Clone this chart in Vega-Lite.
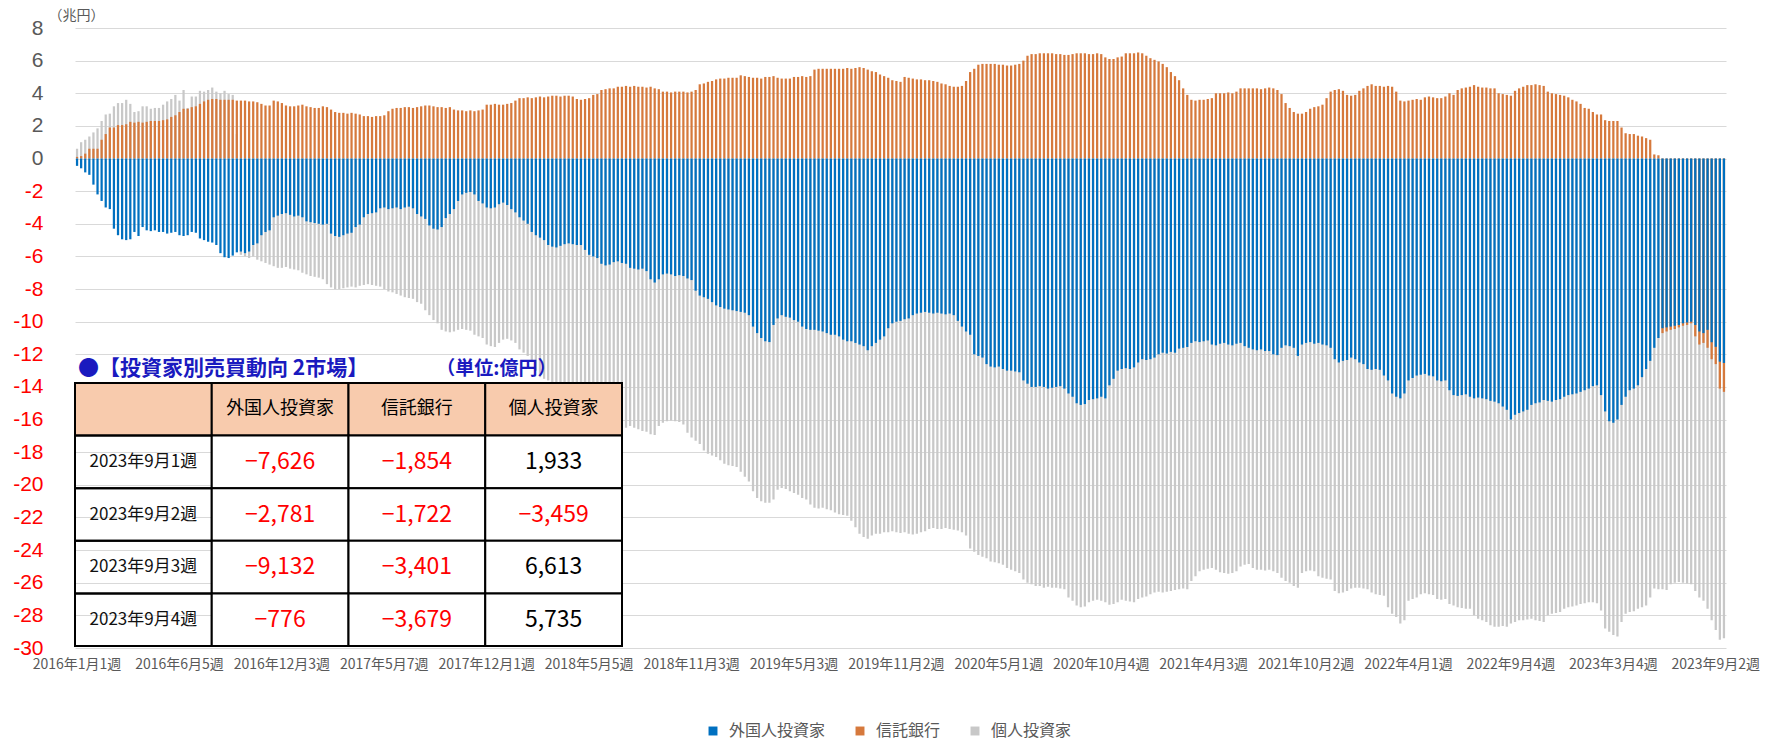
{
"$schema": "https://vega.github.io/schema/vega-lite/v6.json",
"width": 1651,
"height": 620,
"autosize": {"type": "none"},
"padding": {"left": 75, "top": 28, "right": 45, "bottom": 96},
"background": "white",
"config": {"view": {"stroke": null}, "font": "Noto Sans CJK JP", "text": {"font": "Noto Sans CJK JP"}},
"layer": [
{
"data": {"values": [
{"w":"2016年1月1週","foreign":-0.45,"trust":0.1,"indiv":0.6},
{"w":"2016年1月2週","foreign":-0.6,"trust":0.15,"indiv":1.0},
{"w":"2016年1月3週","foreign":-0.85,"trust":0.3,"indiv":1.15},
{"w":"2016年1月4週","foreign":-1.0,"trust":0.6,"indiv":1.35},
{"w":"2016年2月1週","foreign":-1.6,"trust":0.6,"indiv":1.6},
{"w":"2016年2月2週","foreign":-2.2,"trust":0.6,"indiv":1.85},
{"w":"2016年2月3週","foreign":-2.6,"trust":1.15,"indiv":2.3},
{"w":"2016年2月4週","foreign":-3.0,"trust":1.5,"indiv":2.7},
{"w":"2016年2月5週","foreign":-3.1,"trust":1.9,"indiv":2.75},
{"w":"2016年3月1週","foreign":-4.3,"trust":1.9,"indiv":3.2},
{"w":"2016年3月2週","foreign":-4.7,"trust":2.05,"indiv":3.4},
{"w":"2016年3月3週","foreign":-4.95,"trust":2.05,"indiv":3.4},
{"w":"2016年3月4週","foreign":-5.0,"trust":2.1,"indiv":3.6},
{"w":"2016年4月1週","foreign":-4.95,"trust":2.25,"indiv":3.35},
{"w":"2016年4月2週","foreign":-4.5,"trust":2.2,"indiv":2.85},
{"w":"2016年4月3週","foreign":-4.75,"trust":2.25,"indiv":2.9},
{"w":"2016年4月4週","foreign":-4.2,"trust":2.2,"indiv":3.2},
{"w":"2016年5月1週","foreign":-4.4,"trust":2.25,"indiv":3.2},
{"w":"2016年5月2週","foreign":-4.45,"trust":2.3,"indiv":3.05},
{"w":"2016年5月3週","foreign":-4.4,"trust":2.3,"indiv":3.1},
{"w":"2016年5月4週","foreign":-4.5,"trust":2.3,"indiv":3.1},
{"w":"2016年6月1週","foreign":-4.5,"trust":2.35,"indiv":3.3},
{"w":"2016年6月2週","foreign":-4.6,"trust":2.4,"indiv":3.5},
{"w":"2016年6月3週","foreign":-4.55,"trust":2.55,"indiv":3.65},
{"w":"2016年6月4週","foreign":-4.5,"trust":2.65,"indiv":3.9},
{"w":"2016年6月5週","foreign":-4.7,"trust":2.85,"indiv":3.55},
{"w":"2016年7月1週","foreign":-4.75,"trust":3.05,"indiv":4.2},
{"w":"2016年7月2週","foreign":-4.7,"trust":3.05,"indiv":3.1},
{"w":"2016年7月3週","foreign":-4.5,"trust":3.15,"indiv":3.8},
{"w":"2016年7月4週","foreign":-4.55,"trust":3.2,"indiv":3.8},
{"w":"2016年8月1週","foreign":-4.9,"trust":3.35,"indiv":4.15},
{"w":"2016年8月2週","foreign":-5.0,"trust":3.5,"indiv":4.1},
{"w":"2016年8月3週","foreign":-5.1,"trust":3.6,"indiv":4.2},
{"w":"2016年8月4週","foreign":-5.15,"trust":3.65,"indiv":4.35},
{"w":"2016年8月5週","foreign":-5.3,"trust":3.65,"indiv":4.1},
{"w":"2016年9月1週","foreign":-5.8,"trust":3.6,"indiv":4.0},
{"w":"2016年9月2週","foreign":-6.05,"trust":3.6,"indiv":4.15},
{"w":"2016年9月3週","foreign":-6.1,"trust":3.6,"indiv":3.95},
{"w":"2016年9月4週","foreign":-5.95,"trust":3.6,"indiv":3.9},
{"w":"2016年10月1週","foreign":-5.75,"trust":3.55,"indiv":1.5},
{"w":"2016年10月2週","foreign":-5.7,"trust":3.55,"indiv":-5.9},
{"w":"2016年10月3週","foreign":-5.8,"trust":3.55,"indiv":-6.0},
{"w":"2016年10月4週","foreign":-5.7,"trust":3.5,"indiv":-6.1},
{"w":"2016年10月5週","foreign":-5.3,"trust":3.5,"indiv":-6.0},
{"w":"2016年11月1週","foreign":-5.2,"trust":3.45,"indiv":-6.2},
{"w":"2016年11月2週","foreign":-4.7,"trust":3.35,"indiv":-6.3},
{"w":"2016年11月3週","foreign":-4.5,"trust":3.25,"indiv":-6.4},
{"w":"2016年11月4週","foreign":-4.4,"trust":3.25,"indiv":-6.5},
{"w":"2016年12月1週","foreign":-3.6,"trust":3.55,"indiv":-6.6},
{"w":"2016年12月2週","foreign":-3.5,"trust":3.5,"indiv":-6.7},
{"w":"2016年12月3週","foreign":-3.4,"trust":3.4,"indiv":-6.7},
{"w":"2016年12月4週","foreign":-3.35,"trust":3.25,"indiv":-6.65},
{"w":"2017年1月1週","foreign":-3.45,"trust":3.2,"indiv":-6.75},
{"w":"2017年1月2週","foreign":-3.55,"trust":3.2,"indiv":-6.8},
{"w":"2017年1月3週","foreign":-3.5,"trust":3.25,"indiv":-6.85},
{"w":"2017年1月4週","foreign":-3.6,"trust":3.3,"indiv":-7.0},
{"w":"2017年1月5週","foreign":-3.85,"trust":3.2,"indiv":-7.1},
{"w":"2017年2月1週","foreign":-3.9,"trust":3.15,"indiv":-7.2},
{"w":"2017年2月2週","foreign":-3.95,"trust":3.1,"indiv":-7.25},
{"w":"2017年2月3週","foreign":-4.0,"trust":3.1,"indiv":-7.3},
{"w":"2017年2月4週","foreign":-4.05,"trust":3.2,"indiv":-7.4},
{"w":"2017年3月1週","foreign":-4.0,"trust":3.15,"indiv":-7.7},
{"w":"2017年3月2週","foreign":-4.6,"trust":3.0,"indiv":-7.9},
{"w":"2017年3月3週","foreign":-4.75,"trust":2.85,"indiv":-8.0},
{"w":"2017年3月4週","foreign":-4.8,"trust":2.8,"indiv":-8.0},
{"w":"2017年4月1週","foreign":-4.7,"trust":2.8,"indiv":-7.95},
{"w":"2017年4月2週","foreign":-4.6,"trust":2.75,"indiv":-7.9},
{"w":"2017年4月3週","foreign":-4.55,"trust":2.8,"indiv":-7.85},
{"w":"2017年4月4週","foreign":-4.2,"trust":2.75,"indiv":-7.9},
{"w":"2017年5月1週","foreign":-4.05,"trust":2.7,"indiv":-7.8},
{"w":"2017年5月2週","foreign":-3.6,"trust":2.6,"indiv":-7.75},
{"w":"2017年5月3週","foreign":-3.4,"trust":2.6,"indiv":-7.7},
{"w":"2017年5月4週","foreign":-3.35,"trust":2.55,"indiv":-7.75},
{"w":"2017年5月5週","foreign":-3.3,"trust":2.6,"indiv":-7.8},
{"w":"2017年5月6週","foreign":-3.05,"trust":2.6,"indiv":-7.85},
{"w":"2017年5月7週","foreign":-3.0,"trust":2.65,"indiv":-8.0},
{"w":"2017年6月3週","foreign":-3.1,"trust":2.9,"indiv":-8.15},
{"w":"2017年6月4週","foreign":-3.05,"trust":3.05,"indiv":-8.2},
{"w":"2017年7月1週","foreign":-3.0,"trust":3.1,"indiv":-8.3},
{"w":"2017年7月2週","foreign":-3.1,"trust":3.1,"indiv":-8.4},
{"w":"2017年7月3週","foreign":-3.0,"trust":3.15,"indiv":-8.5},
{"w":"2017年7月4週","foreign":-2.95,"trust":3.15,"indiv":-8.55},
{"w":"2017年7月5週","foreign":-3.05,"trust":3.1,"indiv":-8.6},
{"w":"2017年8月1週","foreign":-3.4,"trust":3.15,"indiv":-8.8},
{"w":"2017年8月2週","foreign":-3.55,"trust":3.2,"indiv":-8.9},
{"w":"2017年8月3週","foreign":-3.7,"trust":3.25,"indiv":-9.3},
{"w":"2017年8月4週","foreign":-4.1,"trust":3.25,"indiv":-9.6},
{"w":"2017年9月1週","foreign":-4.3,"trust":3.2,"indiv":-9.9},
{"w":"2017年9月2週","foreign":-4.35,"trust":3.15,"indiv":-10.1},
{"w":"2017年9月3週","foreign":-4.2,"trust":3.15,"indiv":-10.5},
{"w":"2017年9月4週","foreign":-3.65,"trust":3.1,"indiv":-10.6},
{"w":"2017年10月1週","foreign":-3.4,"trust":3.15,"indiv":-10.65},
{"w":"2017年10月2週","foreign":-3.1,"trust":3.0,"indiv":-10.6},
{"w":"2017年10月3週","foreign":-2.6,"trust":2.95,"indiv":-10.5},
{"w":"2017年10月4週","foreign":-2.2,"trust":2.95,"indiv":-10.45},
{"w":"2017年10月5週","foreign":-2.1,"trust":2.9,"indiv":-10.5},
{"w":"2017年11月1週","foreign":-2.05,"trust":2.95,"indiv":-10.55},
{"w":"2017年11月2週","foreign":-2.2,"trust":2.9,"indiv":-10.8},
{"w":"2017年11月3週","foreign":-2.6,"trust":2.95,"indiv":-10.9},
{"w":"2017年11月4週","foreign":-2.75,"trust":3.0,"indiv":-11.0},
{"w":"2017年12月1週","foreign":-3.0,"trust":3.3,"indiv":-11.4},
{"w":"2017年12月2週","foreign":-3.05,"trust":3.3,"indiv":-11.5},
{"w":"2017年12月3週","foreign":-3.0,"trust":3.35,"indiv":-11.55},
{"w":"2017年12月4週","foreign":-2.8,"trust":3.3,"indiv":-11.3},
{"w":"2018年1月1週","foreign":-2.7,"trust":3.3,"indiv":-11.1},
{"w":"2018年1月2週","foreign":-2.85,"trust":3.35,"indiv":-11.05},
{"w":"2018年1月3週","foreign":-3.1,"trust":3.4,"indiv":-11.15},
{"w":"2018年1月4週","foreign":-3.3,"trust":3.55,"indiv":-11.3},
{"w":"2018年1月5週","foreign":-3.6,"trust":3.7,"indiv":-11.7},
{"w":"2018年2月1週","foreign":-3.8,"trust":3.7,"indiv":-11.9},
{"w":"2018年2月2週","foreign":-4.0,"trust":3.75,"indiv":-12.1},
{"w":"2018年2月3週","foreign":-4.5,"trust":3.7,"indiv":-12.4},
{"w":"2018年2月4週","foreign":-4.7,"trust":3.75,"indiv":-13.0},
{"w":"2018年3月1週","foreign":-4.85,"trust":3.8,"indiv":-13.4},
{"w":"2018年3月2週","foreign":-5.0,"trust":3.75,"indiv":-13.5},
{"w":"2018年3月3週","foreign":-5.3,"trust":3.8,"indiv":-13.6},
{"w":"2018年3月4週","foreign":-5.4,"trust":3.85,"indiv":-14.2},
{"w":"2018年4月1週","foreign":-5.45,"trust":3.85,"indiv":-14.5},
{"w":"2018年4月2週","foreign":-5.35,"trust":3.8,"indiv":-14.7},
{"w":"2018年4月3週","foreign":-5.25,"trust":3.85,"indiv":-14.8},
{"w":"2018年4月4週","foreign":-5.2,"trust":3.85,"indiv":-15.2},
{"w":"2018年5月1週","foreign":-5.25,"trust":3.8,"indiv":-15.4},
{"w":"2018年5月2週","foreign":-5.3,"trust":3.65,"indiv":-15.4},
{"w":"2018年5月3週","foreign":-5.3,"trust":3.6,"indiv":-15.35},
{"w":"2018年5月4週","foreign":-5.6,"trust":3.65,"indiv":-15.45},
{"w":"2018年5月5週","foreign":-5.9,"trust":3.7,"indiv":-15.5},
{"w":"2018年6月1週","foreign":-6.0,"trust":3.9,"indiv":-15.6},
{"w":"2018年6月2週","foreign":-6.1,"trust":3.95,"indiv":-15.8},
{"w":"2018年6月3週","foreign":-6.45,"trust":4.2,"indiv":-15.9},
{"w":"2018年6月4週","foreign":-6.55,"trust":4.25,"indiv":-16.0},
{"w":"2018年7月1週","foreign":-6.5,"trust":4.3,"indiv":-16.4},
{"w":"2018年7月2週","foreign":-6.35,"trust":4.3,"indiv":-16.6},
{"w":"2018年7月3週","foreign":-6.3,"trust":4.4,"indiv":-16.7},
{"w":"2018年7月4週","foreign":-6.4,"trust":4.4,"indiv":-16.6},
{"w":"2018年7月5週","foreign":-6.45,"trust":4.45,"indiv":-16.5},
{"w":"2018年8月1週","foreign":-6.7,"trust":4.4,"indiv":-16.4},
{"w":"2018年8月2週","foreign":-6.75,"trust":4.45,"indiv":-16.5},
{"w":"2018年8月3週","foreign":-6.8,"trust":4.4,"indiv":-16.6},
{"w":"2018年8月4週","foreign":-6.75,"trust":4.4,"indiv":-16.7},
{"w":"2018年9月1週","foreign":-6.9,"trust":4.35,"indiv":-16.75},
{"w":"2018年9月2週","foreign":-7.4,"trust":4.4,"indiv":-16.9},
{"w":"2018年9月3週","foreign":-7.6,"trust":4.3,"indiv":-16.95},
{"w":"2018年9月4週","foreign":-7.4,"trust":4.25,"indiv":-16.4},
{"w":"2018年10月1週","foreign":-7.1,"trust":4.1,"indiv":-16.2},
{"w":"2018年10月2週","foreign":-7.05,"trust":4.1,"indiv":-16.1},
{"w":"2018年10月3週","foreign":-7.1,"trust":4.05,"indiv":-16.05},
{"w":"2018年10月4週","foreign":-7.2,"trust":4.1,"indiv":-16.1},
{"w":"2018年10月5週","foreign":-7.15,"trust":4.1,"indiv":-16.15},
{"w":"2018年11月1週","foreign":-7.2,"trust":4.1,"indiv":-16.3},
{"w":"2018年11月2週","foreign":-7.35,"trust":4.05,"indiv":-16.8},
{"w":"2018年11月3週","foreign":-7.45,"trust":4.1,"indiv":-17.1},
{"w":"2018年11月4週","foreign":-8.1,"trust":4.2,"indiv":-17.3},
{"w":"2018年12月1週","foreign":-8.4,"trust":4.55,"indiv":-17.5},
{"w":"2018年12月2週","foreign":-8.5,"trust":4.6,"indiv":-17.9},
{"w":"2018年12月3週","foreign":-8.6,"trust":4.7,"indiv":-18.1},
{"w":"2018年12月4週","foreign":-8.8,"trust":4.75,"indiv":-18.2},
{"w":"2018年12月5週","foreign":-9.0,"trust":4.85,"indiv":-18.3},
{"w":"2019年1月1週","foreign":-9.1,"trust":4.9,"indiv":-18.5},
{"w":"2019年1月2週","foreign":-9.2,"trust":4.9,"indiv":-18.7},
{"w":"2019年1月3週","foreign":-9.25,"trust":4.95,"indiv":-18.8},
{"w":"2019年1月4週","foreign":-9.3,"trust":4.95,"indiv":-18.85},
{"w":"2019年2月1週","foreign":-9.35,"trust":4.95,"indiv":-18.9},
{"w":"2019年2月2週","foreign":-9.4,"trust":5.1,"indiv":-19.2},
{"w":"2019年2月3週","foreign":-9.45,"trust":5.05,"indiv":-19.5},
{"w":"2019年2月4週","foreign":-9.6,"trust":5.0,"indiv":-19.8},
{"w":"2019年3月1週","foreign":-10.3,"trust":4.95,"indiv":-20.4},
{"w":"2019年3月2週","foreign":-10.7,"trust":4.95,"indiv":-20.8},
{"w":"2019年3月3週","foreign":-11.0,"trust":4.9,"indiv":-21.0},
{"w":"2019年3月4週","foreign":-11.2,"trust":5.0,"indiv":-21.1},
{"w":"2019年4月1週","foreign":-11.25,"trust":5.0,"indiv":-21.1},
{"w":"2019年4月2週","foreign":-10.2,"trust":5.05,"indiv":-20.9},
{"w":"2019年4月3週","foreign":-9.8,"trust":4.95,"indiv":-20.3},
{"w":"2019年4月4週","foreign":-9.6,"trust":4.9,"indiv":-20.2},
{"w":"2019年5月1週","foreign":-9.7,"trust":4.9,"indiv":-20.25},
{"w":"2019年5月2週","foreign":-9.75,"trust":4.9,"indiv":-20.4},
{"w":"2019年5月3週","foreign":-9.9,"trust":5.0,"indiv":-20.5},
{"w":"2019年5月4週","foreign":-10.0,"trust":5.0,"indiv":-20.6},
{"w":"2019年6月1週","foreign":-10.3,"trust":5.05,"indiv":-20.8},
{"w":"2019年6月2週","foreign":-10.45,"trust":5.0,"indiv":-20.9},
{"w":"2019年6月3週","foreign":-10.5,"trust":5.05,"indiv":-21.2},
{"w":"2019年6月4週","foreign":-10.5,"trust":5.45,"indiv":-21.4},
{"w":"2019年7月1週","foreign":-10.55,"trust":5.5,"indiv":-21.45},
{"w":"2019年7月2週","foreign":-10.6,"trust":5.5,"indiv":-21.4},
{"w":"2019年7月3週","foreign":-10.7,"trust":5.5,"indiv":-21.5},
{"w":"2019年7月4週","foreign":-10.8,"trust":5.5,"indiv":-21.55},
{"w":"2019年7月5週","foreign":-10.8,"trust":5.5,"indiv":-21.7},
{"w":"2019年8月1週","foreign":-10.9,"trust":5.5,"indiv":-21.8},
{"w":"2019年8月2週","foreign":-11.1,"trust":5.5,"indiv":-21.85},
{"w":"2019年8月3週","foreign":-11.2,"trust":5.55,"indiv":-21.9},
{"w":"2019年8月4週","foreign":-11.2,"trust":5.5,"indiv":-22.2},
{"w":"2019年9月1週","foreign":-11.3,"trust":5.55,"indiv":-22.6},
{"w":"2019年9月2週","foreign":-11.4,"trust":5.6,"indiv":-23.0},
{"w":"2019年9月3週","foreign":-11.5,"trust":5.55,"indiv":-23.2},
{"w":"2019年9月4週","foreign":-11.75,"trust":5.45,"indiv":-23.3},
{"w":"2019年9月5週","foreign":-11.5,"trust":5.35,"indiv":-23.1},
{"w":"2019年10月1週","foreign":-11.3,"trust":5.3,"indiv":-23.0},
{"w":"2019年10月2週","foreign":-11.1,"trust":5.15,"indiv":-23.0},
{"w":"2019年10月3週","foreign":-10.9,"trust":5.05,"indiv":-22.9},
{"w":"2019年10月4週","foreign":-10.4,"trust":4.95,"indiv":-22.9},
{"w":"2019年11月1週","foreign":-10.1,"trust":4.8,"indiv":-22.85},
{"w":"2019年11月2週","foreign":-10.0,"trust":4.75,"indiv":-22.9},
{"w":"2019年11月3週","foreign":-9.95,"trust":4.7,"indiv":-22.95},
{"w":"2019年11月4週","foreign":-9.85,"trust":5.0,"indiv":-22.9},
{"w":"2019年12月1週","foreign":-9.8,"trust":4.95,"indiv":-23.0},
{"w":"2019年12月2週","foreign":-9.6,"trust":4.9,"indiv":-23.05},
{"w":"2019年12月3週","foreign":-9.5,"trust":4.85,"indiv":-23.0},
{"w":"2019年12月4週","foreign":-9.45,"trust":4.85,"indiv":-22.9},
{"w":"2019年12月5週","foreign":-9.4,"trust":4.8,"indiv":-22.85},
{"w":"2020年1月1週","foreign":-9.45,"trust":4.8,"indiv":-22.7},
{"w":"2020年1月2週","foreign":-9.5,"trust":4.75,"indiv":-22.65},
{"w":"2020年1月3週","foreign":-9.45,"trust":4.7,"indiv":-22.7},
{"w":"2020年1月4週","foreign":-9.5,"trust":4.6,"indiv":-22.7},
{"w":"2020年2月1週","foreign":-9.55,"trust":4.55,"indiv":-22.65},
{"w":"2020年2月2週","foreign":-9.5,"trust":4.45,"indiv":-22.7},
{"w":"2020年2月3週","foreign":-9.6,"trust":4.4,"indiv":-22.75},
{"w":"2020年2月4週","foreign":-9.95,"trust":4.4,"indiv":-22.8},
{"w":"2020年3月1週","foreign":-10.3,"trust":4.45,"indiv":-22.9},
{"w":"2020年3月2週","foreign":-10.6,"trust":4.75,"indiv":-23.1},
{"w":"2020年3月3週","foreign":-10.8,"trust":5.3,"indiv":-23.9},
{"w":"2020年3月4週","foreign":-12.0,"trust":5.5,"indiv":-24.1},
{"w":"2020年3月5週","foreign":-12.1,"trust":5.75,"indiv":-24.3},
{"w":"2020年4月1週","foreign":-12.2,"trust":5.8,"indiv":-24.4},
{"w":"2020年4月2週","foreign":-12.6,"trust":5.8,"indiv":-24.5},
{"w":"2020年4月3週","foreign":-12.75,"trust":5.8,"indiv":-24.7},
{"w":"2020年4月4週","foreign":-12.8,"trust":5.8,"indiv":-24.75},
{"w":"2020年5月1週","foreign":-12.75,"trust":5.75,"indiv":-24.8},
{"w":"2020年5月2週","foreign":-12.9,"trust":5.75,"indiv":-24.9},
{"w":"2020年5月3週","foreign":-13.0,"trust":5.7,"indiv":-25.1},
{"w":"2020年5月4週","foreign":-13.0,"trust":5.7,"indiv":-25.2},
{"w":"2020年6月1週","foreign":-13.05,"trust":5.75,"indiv":-25.3},
{"w":"2020年6月2週","foreign":-13.1,"trust":5.8,"indiv":-25.4},
{"w":"2020年6月3週","foreign":-13.6,"trust":6.0,"indiv":-25.8},
{"w":"2020年6月4週","foreign":-13.8,"trust":6.3,"indiv":-26.0},
{"w":"2020年6月5週","foreign":-14.0,"trust":6.4,"indiv":-26.1},
{"w":"2020年7月1週","foreign":-14.0,"trust":6.4,"indiv":-26.2},
{"w":"2020年7月2週","foreign":-13.95,"trust":6.45,"indiv":-26.2},
{"w":"2020年7月3週","foreign":-14.0,"trust":6.45,"indiv":-26.3},
{"w":"2020年7月4週","foreign":-14.1,"trust":6.45,"indiv":-26.25},
{"w":"2020年8月1週","foreign":-14.05,"trust":6.45,"indiv":-26.3},
{"w":"2020年8月2週","foreign":-14.0,"trust":6.4,"indiv":-26.3},
{"w":"2020年8月3週","foreign":-13.95,"trust":6.4,"indiv":-26.35},
{"w":"2020年8月4週","foreign":-14.1,"trust":6.35,"indiv":-26.4},
{"w":"2020年8月5週","foreign":-14.4,"trust":6.35,"indiv":-26.9},
{"w":"2020年9月1週","foreign":-14.6,"trust":6.4,"indiv":-27.1},
{"w":"2020年9月2週","foreign":-15.0,"trust":6.45,"indiv":-27.4},
{"w":"2020年9月3週","foreign":-15.1,"trust":6.45,"indiv":-27.5},
{"w":"2020年9月4週","foreign":-15.05,"trust":6.45,"indiv":-27.45},
{"w":"2020年10月1週","foreign":-14.8,"trust":6.4,"indiv":-27.2},
{"w":"2020年10月2週","foreign":-14.75,"trust":6.4,"indiv":-27.1},
{"w":"2020年10月3週","foreign":-14.7,"trust":6.45,"indiv":-27.05},
{"w":"2020年10月4週","foreign":-14.6,"trust":6.4,"indiv":-27.1},
{"w":"2020年11月1週","foreign":-14.7,"trust":6.2,"indiv":-27.2},
{"w":"2020年11月2週","foreign":-13.9,"trust":6.1,"indiv":-27.35},
{"w":"2020年11月3週","foreign":-13.5,"trust":6.1,"indiv":-27.3},
{"w":"2020年11月4週","foreign":-13.0,"trust":6.2,"indiv":-27.2},
{"w":"2020年11月5週","foreign":-12.9,"trust":6.25,"indiv":-27.05},
{"w":"2020年12月1週","foreign":-12.85,"trust":6.45,"indiv":-27.1},
{"w":"2020年12月2週","foreign":-12.9,"trust":6.45,"indiv":-27.15},
{"w":"2020年12月3週","foreign":-12.8,"trust":6.45,"indiv":-27.2},
{"w":"2020年12月4週","foreign":-12.5,"trust":6.5,"indiv":-27.0},
{"w":"2021年1月1週","foreign":-12.3,"trust":6.45,"indiv":-26.9},
{"w":"2021年1月2週","foreign":-12.35,"trust":6.3,"indiv":-26.85},
{"w":"2021年1月3週","foreign":-12.3,"trust":6.15,"indiv":-26.7},
{"w":"2021年1月4週","foreign":-12.2,"trust":6.05,"indiv":-26.6},
{"w":"2021年2月1週","foreign":-12.0,"trust":5.95,"indiv":-26.55},
{"w":"2021年2月2週","foreign":-11.9,"trust":5.8,"indiv":-26.6},
{"w":"2021年2月3週","foreign":-11.95,"trust":5.6,"indiv":-26.55},
{"w":"2021年2月4週","foreign":-11.85,"trust":5.3,"indiv":-26.5},
{"w":"2021年3月1週","foreign":-11.9,"trust":5.05,"indiv":-26.45},
{"w":"2021年3月2週","foreign":-11.65,"trust":4.8,"indiv":-26.4},
{"w":"2021年3月3週","foreign":-11.6,"trust":4.3,"indiv":-26.35},
{"w":"2021年3月4週","foreign":-11.55,"trust":3.9,"indiv":-26.4},
{"w":"2021年3月5週","foreign":-11.3,"trust":3.6,"indiv":-25.9},
{"w":"2021年4月1週","foreign":-11.2,"trust":3.55,"indiv":-25.6},
{"w":"2021年4月2週","foreign":-11.25,"trust":3.6,"indiv":-25.3},
{"w":"2021年4月3週","foreign":-11.2,"trust":3.6,"indiv":-25.2},
{"w":"2021年4月4週","foreign":-11.15,"trust":3.65,"indiv":-25.15},
{"w":"2021年5月1週","foreign":-11.4,"trust":3.7,"indiv":-25.1},
{"w":"2021年5月2週","foreign":-11.45,"trust":4.0,"indiv":-25.2},
{"w":"2021年5月3週","foreign":-11.35,"trust":4.0,"indiv":-25.35},
{"w":"2021年5月4週","foreign":-11.3,"trust":4.0,"indiv":-25.4},
{"w":"2021年5月5週","foreign":-11.4,"trust":4.05,"indiv":-25.45},
{"w":"2021年6月1週","foreign":-11.45,"trust":4.0,"indiv":-25.4},
{"w":"2021年6月2週","foreign":-11.35,"trust":4.1,"indiv":-25.3},
{"w":"2021年6月3週","foreign":-11.3,"trust":4.3,"indiv":-25.0},
{"w":"2021年6月4週","foreign":-11.5,"trust":4.3,"indiv":-24.9},
{"w":"2021年7月1週","foreign":-11.6,"trust":4.3,"indiv":-24.85},
{"w":"2021年7月2週","foreign":-11.7,"trust":4.3,"indiv":-25.1},
{"w":"2021年7月3週","foreign":-11.75,"trust":4.3,"indiv":-25.2},
{"w":"2021年7月4週","foreign":-11.7,"trust":4.25,"indiv":-25.2},
{"w":"2021年8月1週","foreign":-11.8,"trust":4.3,"indiv":-25.25},
{"w":"2021年8月2週","foreign":-11.8,"trust":4.35,"indiv":-25.2},
{"w":"2021年8月3週","foreign":-12.0,"trust":4.3,"indiv":-25.3},
{"w":"2021年8月4週","foreign":-12.05,"trust":4.2,"indiv":-25.4},
{"w":"2021年8月5週","foreign":-11.6,"trust":3.95,"indiv":-25.7},
{"w":"2021年9月1週","foreign":-11.45,"trust":3.4,"indiv":-25.9},
{"w":"2021年9月2週","foreign":-11.5,"trust":3.1,"indiv":-26.0},
{"w":"2021年9月3週","foreign":-11.6,"trust":2.85,"indiv":-26.2},
{"w":"2021年9月4週","foreign":-12.1,"trust":2.75,"indiv":-26.3},
{"w":"2021年10月1週","foreign":-11.4,"trust":2.75,"indiv":-25.4},
{"w":"2021年10月2週","foreign":-11.3,"trust":2.85,"indiv":-25.3},
{"w":"2021年10月3週","foreign":-11.25,"trust":3.05,"indiv":-25.25},
{"w":"2021年10月4週","foreign":-11.35,"trust":3.15,"indiv":-25.3},
{"w":"2021年11月1週","foreign":-11.3,"trust":3.2,"indiv":-25.6},
{"w":"2021年11月2週","foreign":-11.4,"trust":3.3,"indiv":-25.7},
{"w":"2021年11月3週","foreign":-11.45,"trust":3.7,"indiv":-25.75},
{"w":"2021年11月4週","foreign":-11.6,"trust":4.1,"indiv":-25.8},
{"w":"2021年11月5週","foreign":-12.3,"trust":4.2,"indiv":-26.5},
{"w":"2021年12月1週","foreign":-12.5,"trust":4.25,"indiv":-26.65},
{"w":"2021年12月2週","foreign":-12.4,"trust":4.15,"indiv":-26.6},
{"w":"2021年12月3週","foreign":-12.35,"trust":3.9,"indiv":-26.5},
{"w":"2021年12月4週","foreign":-12.2,"trust":3.85,"indiv":-26.35},
{"w":"2022年1月1週","foreign":-12.3,"trust":3.9,"indiv":-26.3},
{"w":"2022年1月2週","foreign":-12.5,"trust":4.15,"indiv":-26.3},
{"w":"2022年1月3週","foreign":-12.6,"trust":4.3,"indiv":-26.35},
{"w":"2022年1月4週","foreign":-12.9,"trust":4.45,"indiv":-26.4},
{"w":"2022年1月5週","foreign":-12.95,"trust":4.55,"indiv":-26.6},
{"w":"2022年2月1週","foreign":-12.9,"trust":4.45,"indiv":-26.7},
{"w":"2022年2月2週","foreign":-12.95,"trust":4.45,"indiv":-26.75},
{"w":"2022年2月3週","foreign":-13.3,"trust":4.4,"indiv":-26.8},
{"w":"2022年2月4週","foreign":-13.6,"trust":4.45,"indiv":-27.5},
{"w":"2022年3月1週","foreign":-14.4,"trust":4.4,"indiv":-27.9},
{"w":"2022年3月2週","foreign":-14.6,"trust":4.1,"indiv":-28.1},
{"w":"2022年3月3週","foreign":-14.7,"trust":3.55,"indiv":-28.5},
{"w":"2022年3月4週","foreign":-14.4,"trust":3.5,"indiv":-28.3},
{"w":"2022年4月1週","foreign":-13.6,"trust":3.55,"indiv":-27.1},
{"w":"2022年4月2週","foreign":-13.45,"trust":3.6,"indiv":-27.0},
{"w":"2022年4月3週","foreign":-13.3,"trust":3.65,"indiv":-26.9},
{"w":"2022年4月4週","foreign":-13.25,"trust":3.6,"indiv":-26.7},
{"w":"2022年5月1週","foreign":-13.2,"trust":3.75,"indiv":-26.65},
{"w":"2022年5月2週","foreign":-13.3,"trust":3.8,"indiv":-26.7},
{"w":"2022年5月3週","foreign":-13.35,"trust":3.75,"indiv":-26.75},
{"w":"2022年5月4週","foreign":-13.6,"trust":3.7,"indiv":-27.0},
{"w":"2022年5月5週","foreign":-13.65,"trust":3.7,"indiv":-27.05},
{"w":"2022年6月1週","foreign":-13.6,"trust":3.8,"indiv":-27.0},
{"w":"2022年6月2週","foreign":-14.2,"trust":4.0,"indiv":-27.3},
{"w":"2022年6月3週","foreign":-14.5,"trust":3.9,"indiv":-27.4},
{"w":"2022年6月4週","foreign":-14.55,"trust":4.2,"indiv":-27.5},
{"w":"2022年7月1週","foreign":-14.5,"trust":4.3,"indiv":-27.55},
{"w":"2022年7月2週","foreign":-14.45,"trust":4.35,"indiv":-27.6},
{"w":"2022年7月3週","foreign":-14.6,"trust":4.4,"indiv":-27.6},
{"w":"2022年7月4週","foreign":-14.7,"trust":4.5,"indiv":-28.0},
{"w":"2022年8月1週","foreign":-14.65,"trust":4.4,"indiv":-28.2},
{"w":"2022年8月2週","foreign":-14.7,"trust":4.35,"indiv":-28.3},
{"w":"2022年8月3週","foreign":-14.75,"trust":4.35,"indiv":-28.4},
{"w":"2022年8月4週","foreign":-14.85,"trust":4.3,"indiv":-28.6},
{"w":"2022年8月5週","foreign":-14.9,"trust":4.3,"indiv":-28.7},
{"w":"2022年9月1週","foreign":-15.0,"trust":4.0,"indiv":-28.7},
{"w":"2022年9月2週","foreign":-15.2,"trust":3.95,"indiv":-28.65},
{"w":"2022年9月3週","foreign":-15.4,"trust":3.9,"indiv":-28.7},
{"w":"2022年9月4週","foreign":-16.0,"trust":3.85,"indiv":-28.5},
{"w":"2022年10月1週","foreign":-15.7,"trust":4.15,"indiv":-28.4},
{"w":"2022年10月2週","foreign":-15.6,"trust":4.3,"indiv":-28.3},
{"w":"2022年10月3週","foreign":-15.5,"trust":4.4,"indiv":-28.3},
{"w":"2022年10月4週","foreign":-15.4,"trust":4.5,"indiv":-28.25},
{"w":"2022年10月5週","foreign":-15.1,"trust":4.5,"indiv":-28.2},
{"w":"2022年11月1週","foreign":-15.0,"trust":4.55,"indiv":-28.3},
{"w":"2022年11月2週","foreign":-14.95,"trust":4.5,"indiv":-28.35},
{"w":"2022年11月3週","foreign":-14.8,"trust":4.45,"indiv":-28.4},
{"w":"2022年11月4週","foreign":-14.85,"trust":4.1,"indiv":-28.0},
{"w":"2022年12月1週","foreign":-14.9,"trust":4.0,"indiv":-27.9},
{"w":"2022年12月2週","foreign":-14.8,"trust":3.95,"indiv":-27.85},
{"w":"2022年12月3週","foreign":-14.75,"trust":3.9,"indiv":-27.8},
{"w":"2022年12月4週","foreign":-14.6,"trust":3.85,"indiv":-27.6},
{"w":"2023年1月1週","foreign":-14.5,"trust":3.75,"indiv":-27.5},
{"w":"2023年1月2週","foreign":-14.45,"trust":3.6,"indiv":-27.45},
{"w":"2023年1月3週","foreign":-14.4,"trust":3.5,"indiv":-27.4},
{"w":"2023年1月4週","foreign":-14.3,"trust":3.35,"indiv":-27.3},
{"w":"2023年1月5週","foreign":-14.2,"trust":3.1,"indiv":-27.25},
{"w":"2023年2月1週","foreign":-14.1,"trust":3.05,"indiv":-27.2},
{"w":"2023年2月2週","foreign":-13.95,"trust":2.85,"indiv":-27.2},
{"w":"2023年2月3週","foreign":-13.9,"trust":2.7,"indiv":-27.25},
{"w":"2023年2月4週","foreign":-14.5,"trust":2.7,"indiv":-27.7},
{"w":"2023年3月2週","foreign":-15.5,"trust":2.35,"indiv":-28.8},
{"w":"2023年3月3週","foreign":-16.1,"trust":2.3,"indiv":-29.0},
{"w":"2023年3月4週","foreign":-16.2,"trust":2.3,"indiv":-29.2},
{"w":"2023年3月5週","foreign":-16.0,"trust":2.3,"indiv":-29.3},
{"w":"2023年4月1週","foreign":-15.1,"trust":1.9,"indiv":-28.4},
{"w":"2023年4月2週","foreign":-14.6,"trust":1.55,"indiv":-27.9},
{"w":"2023年4月3週","foreign":-14.2,"trust":1.5,"indiv":-27.8},
{"w":"2023年4月4週","foreign":-14.1,"trust":1.5,"indiv":-27.75},
{"w":"2023年5月1週","foreign":-13.9,"trust":1.4,"indiv":-27.6},
{"w":"2023年5月2週","foreign":-13.4,"trust":1.35,"indiv":-27.5},
{"w":"2023年5月3週","foreign":-12.9,"trust":1.25,"indiv":-27.4},
{"w":"2023年5月4週","foreign":-12.4,"trust":1.15,"indiv":-26.9},
{"w":"2023年5月5週","foreign":-11.6,"trust":0.25,"indiv":-26.35},
{"w":"2023年6月1週","foreign":-11.0,"trust":0.2,"indiv":-26.4},
{"w":"2023年6月2週","foreign":-10.4,"trust":-10.7,"indiv":-26.4},
{"w":"2023年6月3週","foreign":-10.35,"trust":-10.6,"indiv":-26.45},
{"w":"2023年6月4週","foreign":-10.3,"trust":-10.5,"indiv":-26.1},
{"w":"2023年7月1週","foreign":-10.25,"trust":-10.45,"indiv":-26.0},
{"w":"2023年7月2週","foreign":-10.2,"trust":-10.35,"indiv":-25.95},
{"w":"2023年7月3週","foreign":-10.1,"trust":-10.25,"indiv":-26.0},
{"w":"2023年7月4週","foreign":-10.05,"trust":-10.2,"indiv":-26.05},
{"w":"2023年7月5週","foreign":-10.0,"trust":-10.1,"indiv":-26.1},
{"w":"2023年8月1週","foreign":-10.2,"trust":-10.9,"indiv":-26.5},
{"w":"2023年8月2週","foreign":-10.6,"trust":-11.4,"indiv":-26.9},
{"w":"2023年8月3週","foreign":-10.7,"trust":-11.3,"indiv":-27.1},
{"w":"2023年8月4週","foreign":-10.5,"trust":-11.6,"indiv":-27.6},
{"w":"2023年9月1週","foreign":-11.26,"trust":-12.3,"indiv":-28.3},
{"w":"2023年9月2週","foreign":-11.54,"trust":-12.6,"indiv":-28.9},
{"w":"2023年9月3週","foreign":-12.45,"trust":-14.1,"indiv":-29.5},
{"w":"2023年9月4週","foreign":-12.53,"trust":-14.3,"indiv":-29.4}
]},
"encoding": {
"x": {"field": "w", "type": "nominal", "sort": null,
"scale": {"paddingInner": 0.45, "paddingOuter": 0.225},
"axis": {"title": null, "values": ["2016年1月1週","2016年6月5週","2016年12月3週","2017年5月7週","2017年12月1週","2018年5月5週","2018年11月3週","2019年5月3週","2019年11月2週","2020年5月1週","2020年10月4週","2021年4月3週","2021年10月2週","2022年4月1週","2022年9月4週","2023年3月4週","2023年9月2週"],
"labelAngle": 0, "labelFontSize": 14, "labelFont": "Noto Sans CJK JP", "labelColor": "#595959", "ticks": false, "domain": false, "grid": false, "labelPadding": 9, "labelOverlap": false}}
},
"layer": [
{"mark": {"type": "bar"},
"encoding": {
"y": {"field": "indiv", "type": "quantitative", "title": "（兆円）",
"scale": {"domain": [-30, 8], "nice": false, "zero": true},
"axis": {"values": [-30,-28,-26,-24,-22,-20,-18,-16,-14,-12,-10,-8,-6,-4,-2,0,2,4,6,8], "tickCount": 40,
"labelExpr": "replace(datum.label, '−', '-')",
"labelOverlap": false, "labelFlush": false, "labelBound": false,
"grid": true, "gridColor": "#D9D9D9", "gridWidth": 1.2, "domain": false, "ticks": false,
"labelPadding": 32, "labelFontSize": 21, "labelFont": "Liberation Sans",
"labelColor": {"condition": {"test": "datum.value < 0", "value": "#FF0000"}, "value": "#595959"},
"titleAngle": 0, "titleX": -27, "titleY": -13, "titleAlign": "left", "titleBaseline": "middle",
"titleFontSize": 14, "titleFontWeight": "normal", "titleColor": "#595959", "titleFont": "Noto Sans CJK JP"}},
"color": {"datum": "個人投資家", "type": "nominal",
"scale": {"domain": ["外国人投資家", "信託銀行", "個人投資家"], "range": ["#0070C0", "#D6793C", "#C8C8C8"]},
"legend": {"title": null, "orient": "none", "legendX": 630, "legendY": 695, "direction": "horizontal",
"symbolType": "square", "symbolSize": 80, "symbolStrokeWidth": 0, "labelFontSize": 16, "labelColor": "#595959", "labelFont": "Noto Sans CJK JP",
"columnPadding": 26, "labelOffset": 8, "padding": 0}}
}},
{"mark": {"type": "bar"},
"encoding": {
"y": {"field": "trust", "type": "quantitative", "title": "（兆円）",
"axis": {"values": [-30,-28,-26,-24,-22,-20,-18,-16,-14,-12,-10,-8,-6,-4,-2,0,2,4,6,8], "tickCount": 40,
"labelExpr": "replace(datum.label, '−', '-')",
"labelOverlap": false, "labelFlush": false, "labelBound": false,
"grid": true, "gridColor": "#D9D9D9", "gridWidth": 1.2, "domain": false, "ticks": false,
"labelPadding": 32, "labelFontSize": 21, "labelFont": "Liberation Sans",
"labelColor": {"condition": {"test": "datum.value < 0", "value": "#FF0000"}, "value": "#595959"},
"titleAngle": 0, "titleX": -27, "titleY": -13, "titleAlign": "left", "titleBaseline": "middle",
"titleFontSize": 14, "titleFontWeight": "normal", "titleColor": "#595959", "titleFont": "Noto Sans CJK JP"}},
"color": {"datum": "信託銀行", "type": "nominal"}
}},
{"mark": {"type": "bar"},
"encoding": {
"y": {"field": "foreign", "type": "quantitative", "title": "（兆円）",
"axis": {"values": [-30,-28,-26,-24,-22,-20,-18,-16,-14,-12,-10,-8,-6,-4,-2,0,2,4,6,8], "tickCount": 40,
"labelExpr": "replace(datum.label, '−', '-')",
"labelOverlap": false, "labelFlush": false, "labelBound": false,
"grid": true, "gridColor": "#D9D9D9", "gridWidth": 1.2, "domain": false, "ticks": false,
"labelPadding": 32, "labelFontSize": 21, "labelFont": "Liberation Sans",
"labelColor": {"condition": {"test": "datum.value < 0", "value": "#FF0000"}, "value": "#595959"},
"titleAngle": 0, "titleX": -27, "titleY": -13, "titleAlign": "left", "titleBaseline": "middle",
"titleFontSize": 14, "titleFontWeight": "normal", "titleColor": "#595959", "titleFont": "Noto Sans CJK JP"}},
"color": {"datum": "外国人投資家", "type": "nominal"}
}}
]
},
{
"data": {"values": [
{"r":"h","c":"c0","s":""},
{"r":"h","c":"c1","s":"外国人投資家"},
{"r":"h","c":"c2","s":"信託銀行"},
{"r":"h","c":"c3","s":"個人投資家"},
{"r":"r1","c":"c0","s":"2023年9月1週"},
{"r":"r1","c":"c1","v":-7626},
{"r":"r1","c":"c2","v":-1854},
{"r":"r1","c":"c3","v":1933},
{"r":"r2","c":"c0","s":"2023年9月2週"},
{"r":"r2","c":"c1","v":-2781},
{"r":"r2","c":"c2","v":-1722},
{"r":"r2","c":"c3","v":-3459},
{"r":"r3","c":"c0","s":"2023年9月3週"},
{"r":"r3","c":"c1","v":-9132},
{"r":"r3","c":"c2","v":-3401},
{"r":"r3","c":"c3","v":6613},
{"r":"r4","c":"c0","s":"2023年9月4週"},
{"r":"r4","c":"c1","v":-776},
{"r":"r4","c":"c2","v":-3679},
{"r":"r4","c":"c3","v":5735}
]},
"layer": [
{"mark": {"type": "rect", "stroke": "#000000", "strokeWidth": 2},
"encoding": {
"x": {"field": "c", "type": "nominal", "scale": {"type": "band", "paddingInner": 0, "paddingOuter": 0, "range": [0, 547]}, "axis": null},
"y": {"field": "r", "type": "nominal", "scale": {"type": "band", "paddingInner": 0, "paddingOuter": 0, "range": [355, 618]}, "axis": null},
"fill": {"condition": [{"test": "datum.r === 'h'", "value": "#F8CBAD"}, {"test": "datum.c === 'c0'", "value": "transparent"}], "value": "#FFFFFF"}
}},
{"transform": [{"filter": "datum.r === 'h'"}],
"mark": {"type": "text", "fontSize": 18, "color": "#000000", "baseline": "middle"},
"encoding": {
"x": {"field": "c", "type": "nominal", "scale": {"type": "band"}, "axis": null},
"y": {"field": "r", "type": "nominal", "scale": {"type": "band"}, "axis": null},
"text": {"field": "s"}
}},
{"transform": [{"filter": "datum.r !== 'h' && datum.c === 'c0'"}],
"mark": {"type": "text", "fontSize": 17, "color": "#111111", "baseline": "middle"},
"encoding": {
"x": {"field": "c", "type": "nominal", "scale": {"type": "band"}, "axis": null},
"y": {"field": "r", "type": "nominal", "scale": {"type": "band"}, "axis": null},
"text": {"field": "s"}
}},
{"transform": [{"filter": "isValid(datum.v)"}],
"mark": {"type": "text", "fontSize": 23, "baseline": "middle"},
"encoding": {
"x": {"field": "c", "type": "nominal", "scale": {"type": "band"}, "axis": null},
"y": {"field": "r", "type": "nominal", "scale": {"type": "band"}, "axis": null},
"text": {"field": "v", "type": "quantitative", "format": ","},
"color": {"condition": {"test": "datum.v < 0", "value": "#FF0000"}, "value": "#000000"}
}},
{"data": {"values": [{"c": "c0", "r": "h"}]},
"mark": {"type": "text", "align": "left", "baseline": "middle", "dx": 3, "dy": -14, "fontSize": 21, "fontWeight": "bold", "color": "#1A1ABF", "text": "●【投資家別売買動向 2市場】"},
"encoding": {
"x": {"field": "c", "type": "nominal", "bandPosition": 0, "scale": {"type": "band"}, "axis": null},
"y": {"field": "r", "type": "nominal", "bandPosition": 0, "scale": {"type": "band"}, "axis": null}
}},
{"data": {"values": [{"c": "c3", "r": "h"}]},
"mark": {"type": "text", "align": "left", "baseline": "middle", "dx": -49, "dy": -14, "fontSize": 19, "fontWeight": "bold", "color": "#1A1ABF", "text": "（単位:億円）"},
"encoding": {
"x": {"field": "c", "type": "nominal", "bandPosition": 0, "scale": {"type": "band"}, "axis": null},
"y": {"field": "r", "type": "nominal", "bandPosition": 0, "scale": {"type": "band"}, "axis": null}
}}
]
}
],
"resolve": {"scale": {"x": "independent", "y": "independent"}}
}
